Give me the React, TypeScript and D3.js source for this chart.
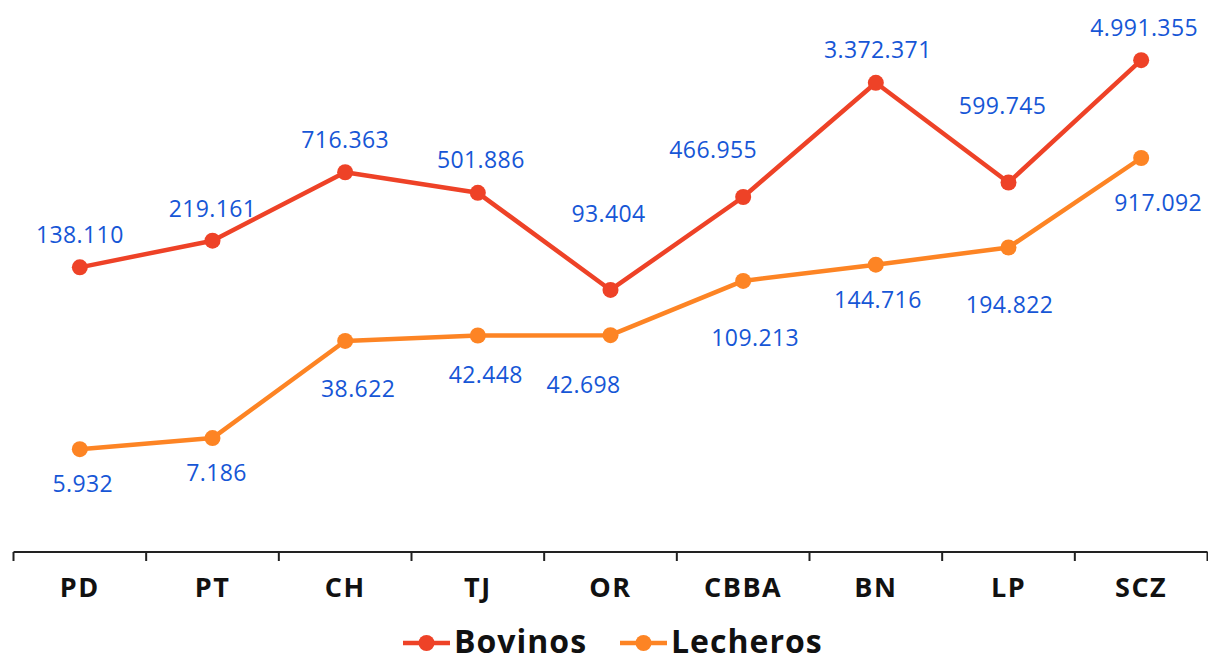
import React from "react";
import * as d3 from "d3";

const categories = ["PD", "PT", "CH", "TJ", "OR", "CBBA", "BN", "LP", "SCZ"];
const bovinos = [138110, 219161, 716363, 501886, 93404, 466955, 3372371, 599745, 4991355];
const lecheros = [5932, 7186, 38622, 42448, 42698, 109213, 144716, 194822, 917092];

// label placement offsets (layout only)
const bovDx = [0, 0, 0, 3, -2, -30, 2, -6, 3];
const bovDy = [-33, -33, -33, -34, -77, -48, -34, -78, -33];
const lecDx = [3, 4, 13, 8, -27, 12, 2, 1, 17];
const lecDy = [34, 34, 47, 39, 49, 56, 34, 57, 44];

const W = 1208;
const H = 656;
const RED = "#EE4227";
const ORANGE = "#FD8424";
const LABEL = "#1656D6";
const FONT = "'Open Sans', sans-serif";

const locale = d3.formatLocale({ thousands: ".", decimal: ",", grouping: [3], currency: ["", ""] });
const fmt = locale.format(",d");

export default function App() {
  const x = d3.scaleBand<string>().domain(categories).range([13.5, 1207.5]);
  const y = d3.scaleLog().domain([1000, 1e7]).range([552, 20]);
  const cx = (c: string) => (x(c) as number) + x.bandwidth() / 2;
  const line = d3
    .line<number>()
    .x((_, i) => cx(categories[i]))
    .y((v) => y(v));

  const series = [
    { name: "Bovinos", values: bovinos, color: RED, dx: bovDx, dy: bovDy },
    { name: "Lecheros", values: lecheros, color: ORANGE, dx: lecDx, dy: lecDy },
  ];

  const ticks = categories.map((c) => x(c) as number).concat([x.range()[1]]);

  const legendItems = [
    { name: "Bovinos", color: RED, x0: 403 },
    { name: "Lecheros", color: ORANGE, x0: 620 },
  ];

  return (
    <svg
      width={W}
      height={H}
      style={{ position: "absolute", left: 0, top: 0, background: "#fff" }}
      fontFamily={FONT}
    >
      {/* axis */}
      <line x1={13.5} x2={1207.5} y1={552} y2={552} stroke="#222" strokeWidth={2} />
      {ticks.map((t, i) => (
        <line key={i} x1={t} x2={t} y1={552} y2={561} stroke="#222" strokeWidth={2} />
      ))}
      {categories.map((c) => (
        <text
          key={c}
          x={cx(c)}
          y={597}
          textAnchor="middle"
          fontSize={27}
          fontWeight={700}
          letterSpacing={1.5}
          fill="#111"
        >
          {c}
        </text>
      ))}

      {series.map((s) => (
        <g key={s.name}>
          <path d={line(s.values) || ""} fill="none" stroke={s.color} strokeWidth={4.5} strokeLinejoin="round" />
          {s.values.map((v, i) => (
            <circle key={i} cx={cx(categories[i])} cy={y(v)} r={8} fill={s.color} />
          ))}
          {s.values.map((v, i) => (
            <text
              key={"l" + i}
              x={cx(categories[i]) + s.dx[i]}
              y={y(v) + s.dy[i]}
              textAnchor="middle"
              dominantBaseline="central"
              fontSize={23}
              letterSpacing={0.4}
              fill={LABEL}
            >
              {fmt(v)}
            </text>
          ))}
        </g>
      ))}

      {/* legend */}
      {legendItems.map((l) => (
        <g key={l.name}>
          <line x1={l.x0} x2={l.x0 + 47} y1={643} y2={643} stroke={l.color} strokeWidth={4.5} />
          <circle cx={l.x0 + 23.5} cy={643} r={8} fill={l.color} />
          <text x={l.x0 + 51} y={653} fontSize={32} fontWeight={700} letterSpacing={1} fill="#111">
            {l.name}
          </text>
        </g>
      ))}
    </svg>
  );
}
